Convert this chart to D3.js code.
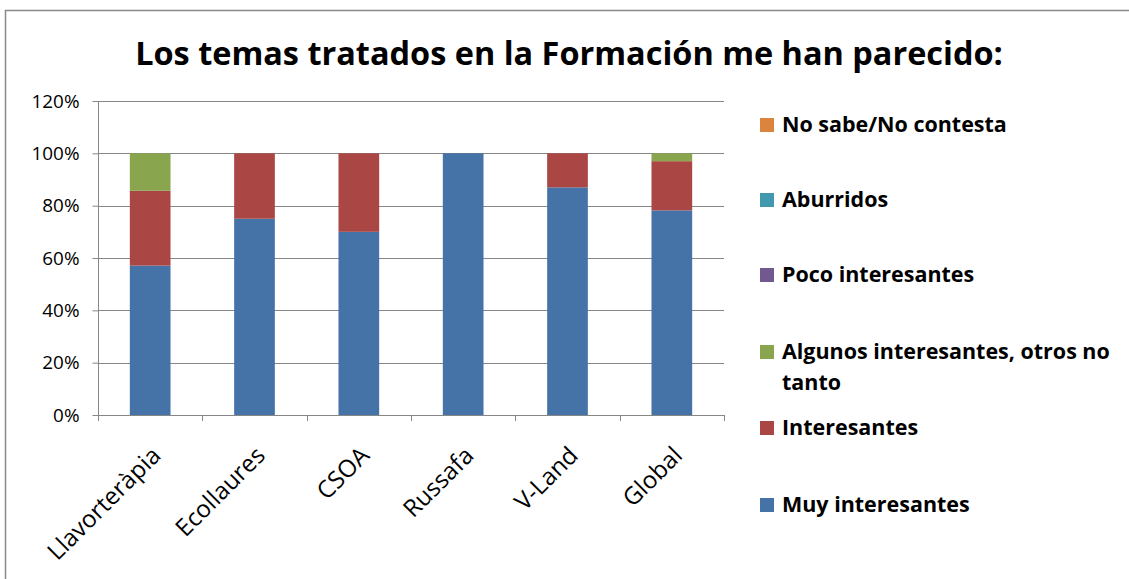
<!DOCTYPE html>
<html><head><meta charset="utf-8">
<script src="https://cdn.jsdelivr.net/npm/d3@7"></script>
<style>body{margin:0;background:#fff}svg{display:block}</style>
</head><body>
<svg id="c" width="1129" height="579"></svg>
<script>
const categories = ["Llavorteràpia","Ecollaures","CSOA","Russafa","V-Land","Global"];
const seriesNames = ["Muy interesantes","Interesantes","Algunos interesantes, otros no tanto","Poco interesantes","Aburridos","No sabe/No contesta"];
const muyInteresantes = [57.1, 75, 70, 100, 87, 78.2];
const interesantes    = [28.6, 25, 30, 0, 13, 18.8];
const algunos         = [14.3, 0, 0, 0, 0, 3.0];
const pocoInteresantes= [0, 0, 0, 0, 0, 0];
const aburridos       = [0, 0, 0, 0, 0, 0];
const noSabe          = [0, 0, 0, 0, 0, 0];
const yTicks = [0, 20, 40, 60, 80, 100, 120];
const title = "Los temas tratados en la Formación me han parecido:";
const colors = ["#4572A7","#AA4643","#89A54E","#71588F","#4198AF","#DB843D"];

const seriesValues = [muyInteresantes, interesantes, algunos, pocoInteresantes, aburridos, noSabe];
const rows = categories.map((c,i)=>{const r={cat:c}; seriesNames.forEach((s,j)=>r[s]=seriesValues[j][i]); return r;});
const stack = d3.stack().keys(seriesNames)(rows);

const svg = d3.select("#c");
const font = "'Open Sans', sans-serif";
const pLeft=98, pRight=724, pTop=101, pBottom=415;
const x = d3.scaleBand().domain(categories).range([pLeft,pRight]).paddingInner(0.61).paddingOuter(0.305);
const xb = d3.scaleBand().domain(categories).range([pLeft,pRight]);
const y = d3.scaleLinear().domain([0,120]).range([pBottom,pTop]);

function fitSize(text, weight, targetW){
  const tmp = svg.append("text").attr("font-family",font).attr("font-weight",weight).attr("font-size",20).text(text);
  const ww = tmp.node().getComputedTextLength(); tmp.remove();
  return 20*targetW/ww;
}

// frame
svg.append("rect").attr("x",5.5).attr("y",10.5).attr("width",1200).attr("height",700)
  .attr("fill","none").attr("stroke","#898989").attr("stroke-width",1.5);

// title
svg.append("text").attr("x",569).attr("y",65).attr("text-anchor","middle")
  .attr("font-family",font).attr("font-weight","bold").attr("font-size",fitSize(title,"bold",868)).attr("fill","#000").text(title);

// gridlines
svg.append("g").selectAll("line").data(yTicks.filter(d=>d>0)).join("line")
  .attr("x1",pLeft).attr("x2",pRight).attr("y1",d=>Math.round(y(d))+0.5).attr("y2",d=>Math.round(y(d))+0.5)
  .attr("stroke","#868686").attr("stroke-width",1);

// bars
svg.append("g").selectAll("g").data(stack).join("g").attr("fill",(d,i)=>colors[i])
  .selectAll("rect").data(d=>d).join("rect")
  .attr("x",d=>x(d.data.cat)).attr("width",x.bandwidth())
  .attr("y",d=>y(d[1])).attr("height",d=>y(d[0])-y(d[1]));

// y axis
const yFs = fitSize("120%","normal",48);
const ya = svg.append("g").attr("transform",`translate(${pLeft+0.5},0)`)
  .call(d3.axisLeft(y).tickValues(yTicks).tickFormat(d=>d+"%").tickSize(6).tickPadding(13));
ya.select(".domain").attr("stroke","#868686").attr("d",`M0,${pBottom+0.5}V${pTop}`);
ya.selectAll(".tick line").attr("stroke","#868686");
ya.selectAll("text").attr("font-family",font).attr("font-size",yFs).attr("fill","#000");

// x axis
const xa = svg.append("g");
xa.append("line").attr("x1",pLeft).attr("x2",pRight).attr("y1",pBottom+0.5).attr("y2",pBottom+0.5).attr("stroke","#868686");
const bounds = categories.map(c=>xb(c)).concat([pRight]);
xa.selectAll("line.t").data(bounds).join("line").attr("class","t")
  .attr("x1",d=>Math.round(d)+0.5).attr("x2",d=>Math.round(d)+0.5).attr("y1",pBottom).attr("y2",pBottom+6).attr("stroke","#868686");
const xFs = fitSize("Llavorteràpia","normal",148);
xa.selectAll("text.c").data(categories).join("text").attr("class","c")
  .attr("transform",d=>`translate(${x(d)+x.bandwidth()/2+12},${pBottom+42}) rotate(-45)`)
  .attr("text-anchor","end").attr("font-family",font).attr("font-size",xFs).attr("fill","#000").text(d=>d);

// legend
const legendItems = seriesNames.slice().reverse();
const legendY = [125, 200, 275, 352, 428, 505];
const lFs = fitSize("Algunos interesantes, otros no","bold",328);
const lg = svg.append("g");
legendItems.forEach((name,i)=>{
  const ci = seriesNames.indexOf(name);
  lg.append("rect").attr("x",760).attr("y",legendY[i]-7).attr("width",14).attr("height",14).attr("fill",colors[ci]);
  const tx = lg.append("text").attr("x",782).attr("y",legendY[i]+7).attr("font-family",font).attr("font-weight","bold")
    .attr("font-size",lFs).attr("fill","#000");
  if (name.startsWith("Algunos")) {
    tx.append("tspan").attr("x",782).text("Algunos interesantes, otros no");
    tx.append("tspan").attr("x",782).attr("dy",31).text("tanto");
  } else tx.text(name);
});
</script>
</body></html>
